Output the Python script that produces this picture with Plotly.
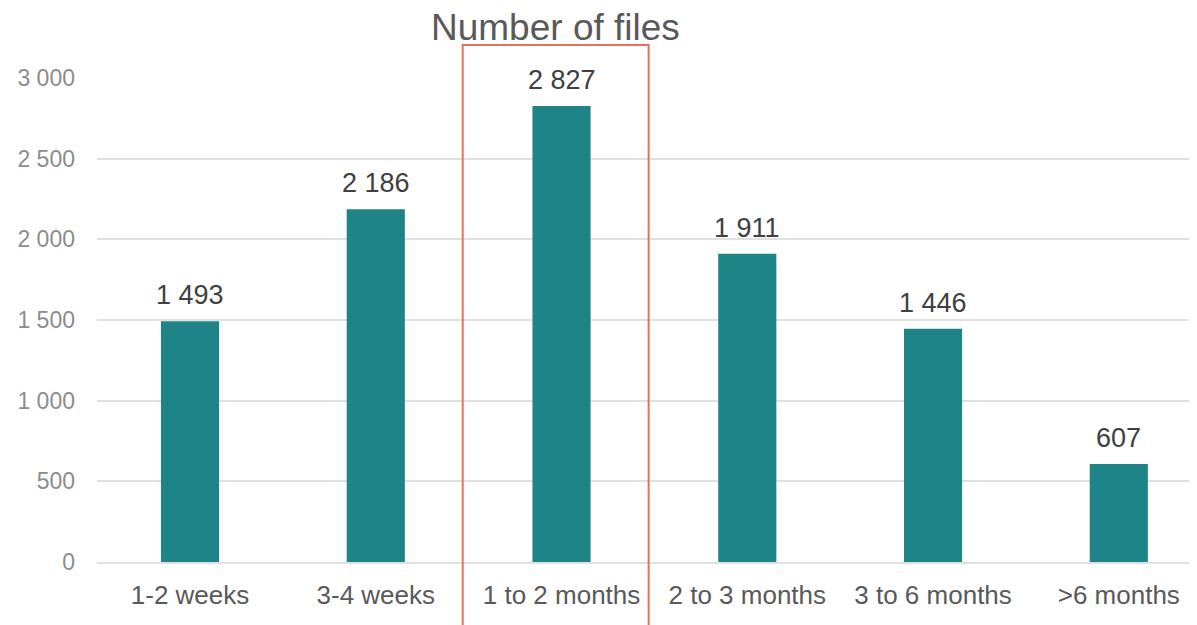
import plotly.graph_objects as go

categories = ["1-2 weeks", "3-4 weeks", "1 to 2 months", "2 to 3 months", "3 to 6 months", ">6 months"]
values = [1493, 2186, 2827, 1911, 1446, 607]
y_ticks = [0, 500, 1000, 1500, 2000, 2500, 3000]

def fmt(v):
    return f"{v:,d}".replace(",", " ")

fig = go.Figure()
fig.add_trace(go.Bar(
    x=categories, y=values,
    marker=dict(color="#1e8488", line=dict(width=0)),
))

for c, v in zip(categories, values):
    fig.add_annotation(x=c, y=v, text=fmt(v), showarrow=False, xanchor="center",
                       yanchor="middle", yshift=26,
                       font=dict(family="Liberation Sans, Arial", size=27, color="#404040"))

fig.add_shape(type="rect", xref="x", yref="paper", x0=1.468, x1=2.469, y0=-0.25, y1=1.068,
              line=dict(color="#E8705A", width=2), fillcolor="rgba(0,0,0,0)", layer="above")

fig.add_annotation(text="Number of files", xref="paper", yref="paper", x=(555-97)/1100, y=1,
                   yshift=51, xanchor="center", yanchor="middle", showarrow=False,
                   font=dict(family="Liberation Sans, Arial", size=37, color="#595959"))

fig.update_layout(
    width=1189, height=617,
    margin=dict(l=89, r=0, t=70, b=63, autoexpand=False),
    paper_bgcolor="white", plot_bgcolor="white",
    separators=", ",
    bargap=0.687,
    showlegend=False,
    font=dict(family="Liberation Sans, Arial"),
)
fig.update_yaxes(range=[0, 3000], tickvals=y_ticks, tickformat=",d",
                 gridcolor="#e0e0e0", gridwidth=1.5, zeroline=False,
                 showline=False, ticklabelstandoff=21,
                 tickfont=dict(size=23, color="#8c8c8c"))
fig.update_xaxes(range=[-0.5007, 5.421], showline=True, linecolor="#e0e0e0", linewidth=1.5,
                 ticks="", ticklabelstandoff=9,
                 tickfont=dict(size=26, color="#595959"))

fig.write_html("out.html")
